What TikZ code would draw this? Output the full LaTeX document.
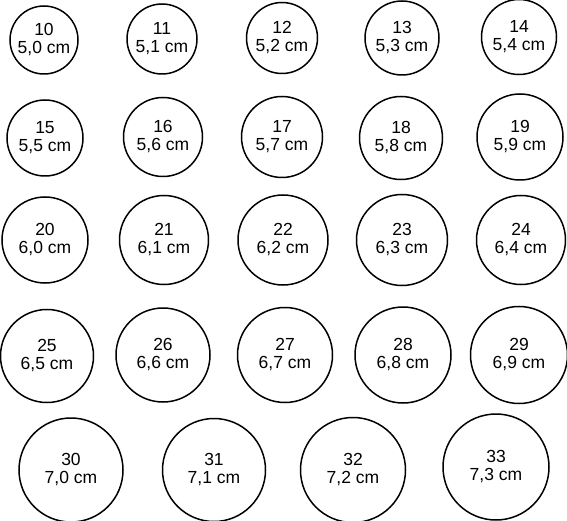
\documentclass[tikz,border=0pt]{standalone}
\usepackage{fontspec}
\setmainfont{Liberation Sans}
\begin{document}
\begin{tikzpicture}[x=1pt,y=-1pt,
  ring/.style={circle,draw=black,line width=1.5pt,inner sep=0pt,align=center,
    font=\fontsize{17.5}{18}\selectfont}]
\useasboundingbox (0,0) rectangle (567,521);
\foreach \n/\cx/\cy/\r/\lab in {
  10/44/40/34/{5,0},11/162/39/35/{5,1},12/282/38/35.5/{5,2},13/402/38/37/{5,3},14/519/37/37.5/{5,4},
  15/45/138/38/{5,5},16/163/137/39.5/{5,6},17/282/137/40.5/{5,7},18/401/138/41.5/{5,8},19/520/137/43/{5,9},
  20/45/240/43/{6,0},21/164/240/44.5/{6,1},22/283/240/45/{6,2},23/402/240/45.5/{6,3},24/521/240/44.5/{6,4},
  25/47/356/46.5/{6,5},26/163/355/47/{6,6},27/285/355/47.5/{6,7},28/403/355/48/{6,8},29/519/355/48.5/{6,9},
  30/71/470/52/{7,0},31/214/470/51.5/{7,1},32/353/470/52.5/{7,2},33/496/467/53/{7,3}}{
  \node[ring,minimum size=2*\r pt] (c\n) at (\cx,\cy) {\n\\\lab{} cm};
}
\end{tikzpicture}
\end{document}
